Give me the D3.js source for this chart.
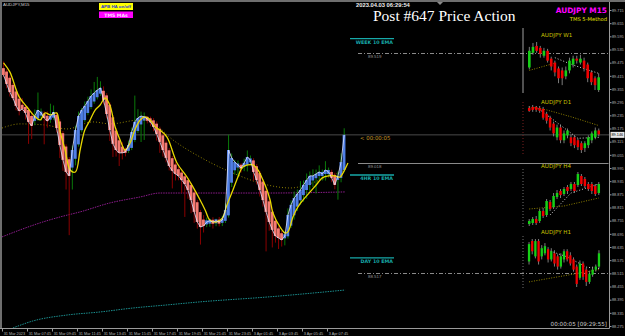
<html>
<head>
<style>
  body { margin: 0; background: #000; }
  svg { display: block; font-family: "DejaVu Sans", sans-serif; }
</style>
<script src="https://d3js.org/d3.v7.min.js"></script>
</head>
<body>
<svg id="chart" width="625" height="336"></svg>
<script type="text/javascript">

// M15 heikin-ashi closes, 31 Mar 05:45 -> 3 Apr 09:00
var closes = [89.419, 89.378, 89.341, 89.314, 89.278, 89.255, 89.264, 89.246, 89.205, 89.187,
  89.232, 89.259, 89.246, 89.223, 89.209, 89.228, 89.250, 89.177, 89.100, 89.032,
  88.977, 88.959, 89.077, 89.168, 89.232, 89.259, 89.278, 89.300, 89.323, 89.337,
  89.350, 89.360, 89.305, 89.241, 89.168, 89.105, 89.077, 89.064, 89.064, 89.068,
  89.100, 89.159, 89.205, 89.223, 89.232, 89.228, 89.218, 89.205, 89.182, 89.150,
  89.114, 89.077, 89.041, 89.004, 88.982, 88.968, 88.959, 88.940, 88.922, 88.895,
  88.849, 88.795, 88.749, 88.726, 88.731, 88.749, 88.754, 88.749, 88.754, 88.749,
  88.758, 88.804, 89.077, 89.041, 89.022, 89.009, 88.995, 89.018, 89.045, 89.032,
  88.977, 88.940, 88.895, 88.849, 88.795, 88.749, 88.713, 88.685, 88.676, 88.667,
  88.685, 88.781, 88.827, 88.858, 88.877, 88.895, 88.918, 88.940, 88.959, 88.959,
  88.968, 88.977, 88.968, 88.986, 88.977, 88.950, 88.918, 88.959, 89.022, 89.146];
var firstOpen = 89.45;
// wick lengths beyond the body, in pips
var wickHi = [3,1,1,1,1,2,3,1,1,2, 3,8,2,1,2,6,3,1,1,1, 1,1,2,2,2,1,2,2,3,5,
  6,3,2,1,1,1,1,1,2,1, 2,2,12,4,2,2,1,1,1,1, 1,1,1,1,1,1,1,1,1,1,
  1,1,1,1,2,2,1,2,1,2, 2,3,7,2,1,2,1,2,3,2, 1,1,1,1,1,1,1,1,1,1,
  2,3,2,3,2,4,2,3,2,3, 2,3,2,4,2,1,1,2,4,3];
var wickLo = [1,2,2,1,2,2,1,3,10,6, 2,1,3,12,3,2,1,2,6,5, 8,27,10,3,1,1,1,1,1,1,
  1,1,2,2,5,6,3,6,3,2, 1,1,1,1,8,9,2,2,2,3, 5,3,2,2,8,3,2,6,15,4,
  6,5,3,8,3,2,2,3,2,2, 2,1,1,2,2,5,2,2,3,2, 4,2,3,3,18,4,8,3,5,3,
  4,1,1,2,2,2,3,4,3,3, 7,2,3,3,2,2,2,9,2,1];

var timeLabels = ["31 Mar 2023", "31 Mar 07:45", "31 Mar 09:45", "31 Mar 11:45", "31 Mar 13:45",
  "31 Mar 15:45", "31 Mar 17:45", "31 Mar 19:45", "31 Mar 21:45", "31 Mar 23:45",
  "3 Apr 01:45", "3 Apr 03:45", "3 Apr 05:45", "3 Apr 07:45"];
var timeTickIdx = [0, 8, 16, 24, 32, 40, 48, 56, 64, 72, 80, 88, 96, 104];

var priceTicks = [89.715, 89.655, 89.595, 89.535, 89.475, 89.415, 89.355, 89.295, 89.235, 89.175,
  89.115, 89.055, 88.995, 88.935, 88.875, 88.815, 88.755, 88.695, 88.635, 88.575,
  88.515, 88.455, 88.395, 88.335, 88.275];

// moving averages: [candle index, price]
var yellowMa = [[0,89.474],[2,89.433],[5,89.319],[7.5,89.273],[9.5,89.237],[11.7,89.214],[13.3,89.246],
  [15,89.237],[17,89.246],[18,89.168],[19.7,89.077],[21.3,88.986],[23,88.977],[24.5,89.077],
  [26,89.168],[27.7,89.214],[29.3,89.259],[30.9,89.282],[32.5,89.314],[34,89.282],[35.7,89.182],
  [37.3,89.123],[38.9,89.077],[40.5,89.109],[42,89.168],[43.7,89.214],[45.3,89.228],[46.9,89.214],
  [48.5,89.182],[50,89.168],[52.3,89.136],[55.5,89.018],[58.7,88.954],[60.6,88.909],[62.9,88.849],
  [64.5,88.804],[66,88.758],[68,88.749],[70,88.767],[71.5,88.827],[73.4,88.895],[75,88.954],
  [76.6,89.000],[79.8,89.009],[81.4,88.986],[83,88.940],[84.3,88.895],[85.3,88.849],[86.2,88.790],
  [88.5,88.726],[90.1,88.699],[91,88.704],[92.6,88.772],[94.2,88.818],[95.8,88.849],[98.1,88.886],
  [100.3,88.922],[102,88.950],[104,88.959],[106,88.959],[107.7,88.954],[108.6,88.972],[110.2,89.018]];
var oliveMa = [[-0.5,89.177],[5.3,89.196],[13.3,89.191],[20.3,89.173],[28.6,89.205],[34.1,89.196],
  [43.7,89.214],[47.8,89.200],[54.2,89.123],[62.9,89.045],[73.4,88.972],[84.3,88.918],[91.7,88.904],
  [101.3,88.940],[109.3,88.986]];
var purpleMa = [[-0.5,88.681],[5.3,88.713],[11.7,88.745],[18.1,88.772],[24.5,88.795],[34.1,88.836],
  [43.7,88.863],[50.1,88.881],[62.9,88.881],[85.3,88.881],[109.3,88.886]];
var tealMa = [[3,88.266],[9.4,88.298],[20.3,88.325],[30.9,88.339],[41.4,88.357],[52.3,88.371],
  [62.9,88.385],[84.3,88.407],[109.3,88.439]];

var levelPrices = [89.519, 89.018, 88.517];
var emaNames = ["WEEK 10 EMA", "4HR 10 EMA", "DAY 10 EMA"];
var emaPrices = [89.585, 88.963, 88.585];

// mini panels, candles as [open, high, low, close]
var w1Candles = [[90.1,94.3,89.7,93.5],[93.1,95.1,92.7,94.3],[94.5,95.3,93.1,93.5],[94.1,94.5,92.1,92.9],
  [92.5,94.1,92.1,93.5],[93.5,93.9,91.1,91.5],[91.9,92.3,89.5,90.3],[91.1,91.5,88.3,89.1],
  [89.9,90.3,86.9,87.9],[89.5,90.1,86.5,87.9],[88.3,90.3,87.7,89.5],[89.5,92.1,88.9,91.5],
  [90.7,92.5,90.1,91.9],[91.9,92.5,90.9,91.5],[91.1,92.7,90.7,91.9],[91.5,92.1,89.3,89.9],
  [90.7,91.1,87.1,87.9],[89.1,89.5,86.5,87.1],[87.9,88.3,85.5,86.5],[85.5,88.9,85.1,88.1]];
var d1Candles = [[91.7,91.9,91.3,91.4],[91.8,92.0,91.3,91.5],[91.8,91.9,91.3,91.5],[91.7,91.9,91.2,91.4],
  [91.6,91.8,90.5,90.7],[91.1,91.3,90.1,90.4],[90.7,90.9,89.4,89.7],[90.1,90.3,88.8,89.1],
  [88.7,90.0,88.4,89.7],[89.7,90.0,88.1,88.4],[88.4,89.4,88.1,89.1],[88.9,89.6,88.6,89.4],
  [88.7,89.0,87.8,88.1],[88.7,88.9,87.6,87.9],[88.4,88.6,87.4,87.7],[88.1,88.3,87.1,87.4],
  [87.6,88.3,87.2,88.1],[87.9,88.9,87.6,88.7],[88.4,89.3,88.1,89.1],[88.7,89.7,88.5,89.4],
  [89.4,89.6,88.8,89.0]];
var h4Candles = [[86.95,87.2,86.85,87.1],[87.0,87.3,86.9,87.2],[87.2,87.35,86.9,87.0],[87.1,87.7,87.0,87.6],
  [87.6,87.75,87.25,87.35],[87.4,88.2,87.3,88.1],[88.05,88.15,87.6,87.7],[87.8,88.5,87.7,88.35],
  [88.3,88.65,88.2,88.5],[88.6,88.7,88.25,88.4],[88.45,88.8,88.35,88.7],[88.8,88.9,88.45,88.6],
  [88.7,89.05,88.6,88.95],[88.95,89.05,88.5,88.6],[88.9,89.55,88.8,89.45],[89.35,89.45,88.85,88.95],
  [89.2,89.3,88.75,88.85],[88.95,89.05,88.6,88.7],[88.95,89.05,88.45,88.6],[88.85,88.95,88.35,88.45],
  [88.5,89.05,88.4,88.95]];
var h1Candles = [[89.06,89.44,89.00,89.40],[89.46,89.50,89.20,89.26],[89.16,89.50,89.12,89.46],
  [89.46,89.50,89.00,89.06],[89.16,89.38,89.10,89.32],[89.22,89.42,89.18,89.36],[89.30,89.34,89.04,89.10],
  [89.10,89.32,89.06,89.26],[89.22,89.28,88.96,89.02],[89.16,89.20,88.90,88.96],[88.96,89.22,88.92,89.16],
  [89.10,89.30,89.04,89.26],[89.26,89.30,89.06,89.10],[89.18,89.24,88.98,89.02],[89.10,89.14,88.86,88.90],
  [88.96,89.00,88.56,88.62],[88.74,89.08,88.70,89.02],[89.02,89.06,88.70,88.76],[88.90,88.94,88.58,88.66],
  [88.66,88.88,88.62,88.82],[88.80,88.96,88.76,88.90],[88.90,89.00,88.86,88.96],[88.96,89.28,88.92,89.22]];
var w1Olive = [[0,89.5],[7,91.0]];
var w1White = [[7,92.1],[12,90.6],[19,88.9]];
var d1Olive = [[0,91.8],[5,91.5],[12,90.8],[20,89.9]];
var d1White = [[2,91.8],[8,90.2],[14,88.6],[20,88.7]];
var h4Olive = [[0,87.7],[10,87.85],[20,88.25]];
var h4White = [[6,87.4],[12,88.5],[20,88.95]];
var h1Olive = [[0,88.66],[22,88.90]];
var h1White = [[5,89.30],[12,89.15],[18,88.95],[22,88.92]];

var svg = d3.select("#chart");
var W = 625, H = 336;
var axisX = 609.5, axisY = 328.5;
var fmt = d3.format(".3f");
var smallFont = "Liberation Sans, Arial, sans-serif";

svg.append("rect").attr("width", W).attr("height", H).attr("fill", "#000");

var x = d3.scaleBand().domain(d3.range(closes.length))
  .range([2, 2 + closes.length * 3.125]).padding(0);
var y = d3.scaleLinear().domain([d3.max(priceTicks), d3.min(priceTicks)]).range([10, 326]);
var bw = x.bandwidth();
function xi(idx) { return x(0) + bw / 2 + idx * x.step(); }

var main = svg.append("g");

// long MAs behind price
function dotted(data, color, dash) {
  main.append("path").datum(data)
    .attr("fill", "none").attr("stroke", color).attr("stroke-width", 1)
    .attr("stroke-dasharray", dash)
    .attr("d", d3.line().x(function(d) { return xi(d[0]); }).y(function(d) { return y(d[1]); })
      .curve(d3.curveMonotoneX));
}
dotted(oliveMa, "#8f8000", "1,2");
dotted(purpleMa, "#8e1c8e", "1.5,1");
dotted(tealMa, "#1b8f8f", "1.5,1");

// current price line
var last = closes[closes.length - 1];
main.append("line").attr("x1", 2).attr("x2", axisX).attr("y1", y(last)).attr("y2", y(last))
  .attr("stroke", "#4a4a4a").attr("stroke-width", 1);

// heikin-ashi opens
var opens = [firstOpen];
for (var i = 1; i < closes.length; i++) {
  opens.push((opens[i - 1] + closes[i - 1]) / 2);
}
var cg = main.append("g");
cg.selectAll("line.wick").data(closes).enter().append("line")
  .attr("class", "wick")
  .attr("x1", function(d, i) { return x(i) + bw / 2; })
  .attr("x2", function(d, i) { return x(i) + bw / 2; })
  .attr("y1", function(d, i) { return y(Math.max(d, opens[i]) + wickHi[i] / 100); })
  .attr("y2", function(d, i) { return y(Math.min(d, opens[i]) - wickLo[i] / 100); })
  .attr("stroke", function(d, i) { return d > opens[i] ? "#0a7a0a" : "#8b0000"; })
  .attr("stroke-width", 1);
cg.selectAll("rect.body").data(closes).enter().append("rect")
  .attr("class", "body")
  .attr("x", function(d, i) { return x(i); })
  .attr("width", bw - 0.3)
  .attr("y", function(d, i) {
    var top = y(Math.max(d, opens[i])), bot = y(Math.min(d, opens[i]));
    return bot - top < 4 ? (top + bot) / 2 - 2 : top;
  })
  .attr("height", function(d, i) { return Math.max(4, Math.abs(y(d) - y(opens[i]))); })
  .attr("fill", function(d, i) { return d > opens[i] ? "#4f7fe6" : "#f47a72"; });

// yellow and white MAs
main.append("path").datum(yellowMa)
  .attr("fill", "none").attr("stroke", "#e8d800").attr("stroke-width", 1.3)
  .attr("d", d3.line().x(function(d) { return xi(d[0]); }).y(function(d) { return y(d[1]); })
    .curve(d3.curveCatmullRom));
main.append("path").datum(closes)
  .attr("fill", "none").attr("stroke", "#dfe6ff").attr("stroke-width", 0.8)
  .attr("d", d3.line().x(function(d, i) { return x(i) + bw / 2; }).y(function(d) { return y(d); }));

// level lines on the right
var levelDash = ["4,2,1,2", null, "4,2,1,2"];
levelPrices.forEach(function(p, k) {
  main.append("line").attr("x1", 358).attr("x2", axisX - 1)
    .attr("y1", Math.round(y(p)) + 0.5).attr("y2", Math.round(y(p)) + 0.5)
    .attr("stroke", "#8a8a8a").attr("stroke-width", 1)
    .attr("stroke-dasharray", levelDash[k]);
  main.append("text").attr("x", 368).attr("y", y(p) + 5)
    .attr("font-size", 4.4).attr("font-family", smallFont).attr("fill", "#9a9a9a").text(fmt(p));
});
emaPrices.forEach(function(p, k) {
  main.append("line").attr("x1", 350).attr("x2", 394).attr("y1", y(p)).attr("y2", y(p))
    .attr("stroke", "#17a9a9").attr("stroke-width", 1.3);
  main.append("text").attr("x", 393).attr("y", y(p) + 5).attr("text-anchor", "end")
    .attr("font-size", 4.8).attr("font-weight", "bold").attr("fill", "#17a9a9").text(emaNames[k]);
});
main.append("text").attr("x", 360).attr("y", y(last) + 5)
  .attr("font-size", 5.4).attr("fill", "#c89a2a").text("< 00:00:05");

// mini panels
var panels = [
  {title: "AUDJPY W1", data: w1Candles, top: 42, bottom: 92, titleY: 37, olive: w1Olive, white: w1White},
  {title: "AUDJPY D1", data: d1Candles, top: 105, bottom: 153, titleY: 104, olive: d1Olive, white: d1White},
  {title: "AUDJPY H4", data: h4Candles, top: 172, bottom: 226, titleY: 168, olive: h4Olive, white: h4White},
  {title: "AUDJPY H1", data: h1Candles, top: 239, bottom: 287, titleY: 234, olive: h1Olive, white: h1White}
];
panels.forEach(function(p, k) {
  var g = svg.append("g");
  var px = d3.scaleBand().domain(d3.range(p.data.length)).range([527, 601]).padding(0.28);
  var py = d3.scaleLinear()
    .domain([d3.max(p.data, function(d) { return d[1]; }), d3.min(p.data, function(d) { return d[2]; })])
    .range([p.top, p.bottom]);
  var pw = px.bandwidth();
  function pxi(idx) { return px(0) + pw / 2 + idx * px.step(); }

  if (k == 0) {
    g.append("rect").attr("x", 522.5).attr("y", 28).attr("width", 1).attr("height", 65).attr("fill", "#a0a0a0");
  } else {
    g.append("line").attr("x1", 523).attr("x2", 523).attr("y1", p.top - 3).attr("y2", p.bottom + 3)
      .attr("stroke", k == 1 ? "#7a2020" : "#707070").attr("stroke-dasharray", "1,2");
  }
  g.append("text").attr("x", 541).attr("y", p.titleY).attr("font-size", 5.6)
    .attr("fill", "#c9c200").text(p.title);

  g.append("path").datum(p.olive).attr("fill", "none").attr("stroke", "#8f8000")
    .attr("stroke-dasharray", "1,1.5")
    .attr("d", d3.line().x(function(d) { return pxi(d[0]); }).y(function(d) { return py(d[1]); }));
  g.append("path").datum(p.white).attr("fill", "none").attr("stroke", "#cfcfcf")
    .attr("stroke-dasharray", "1,2")
    .attr("d", d3.line().x(function(d) { return pxi(d[0]); }).y(function(d) { return py(d[1]); }));

  g.selectAll("line.w").data(p.data).enter().append("line")
    .attr("x1", function(d, i) { return px(i) + pw / 2; })
    .attr("x2", function(d, i) { return px(i) + pw / 2; })
    .attr("y1", function(d) { return py(d[1]); })
    .attr("y2", function(d) { return py(d[2]); })
    .attr("stroke", "#9a9a9a").attr("stroke-width", 0.8);
  g.selectAll("rect.b").data(p.data).enter().append("rect")
    .attr("x", function(d, i) { return px(i); })
    .attr("width", pw)
    .attr("y", function(d) { return py(Math.max(d[0], d[3])); })
    .attr("height", function(d) { return Math.max(1, Math.abs(py(d[0]) - py(d[3]))); })
    .attr("fill", function(d) { return d[3] > d[0] ? "#16d016" : "#f00000"; });
});

// frame
svg.append("rect").attr("x", 0).attr("y", 0).attr("width", W).attr("height", 2).attr("fill", "#6e6e6e");
svg.append("rect").attr("x", 0).attr("y", 0).attr("width", 2).attr("height", axisY).attr("fill", "#6e6e6e");
svg.append("line").attr("x1", axisX).attr("x2", axisX).attr("y1", 2).attr("y2", axisY)
  .attr("stroke", "#9a9a9a");
svg.append("line").attr("x1", 0).attr("x2", axisX).attr("y1", axisY).attr("y2", axisY)
  .attr("stroke", "#9a9a9a");
svg.append("path").attr("d", "M437,2 L443,2 L440,5 Z").attr("fill", "#8a8a8a");

// price axis
var yAxis = d3.axisRight(y).tickValues(priceTicks).tickSize(2).tickFormat(fmt);
var ya = svg.append("g").attr("transform", "translate(" + axisX + ",0)").call(yAxis);
ya.select(".domain").remove();
ya.selectAll("line").attr("stroke", "#9a9a9a");
ya.selectAll("text").attr("font-size", 3.8).attr("fill", "#b8b8b8").attr("x", 2.5)
  .attr("font-family", smallFont);
svg.append("rect").attr("x", axisX + 1).attr("y", y(last) - 3).attr("width", 14).attr("height", 6)
  .attr("fill", "#e8e8e8");
svg.append("text").attr("x", axisX + 2).attr("y", y(last) + 1.4).attr("font-size", 3.8)
  .attr("font-family", smallFont).attr("fill", "#000").text(fmt(last));

// time axis
var ta = svg.append("g");
timeTickIdx.forEach(function(idx, k) {
  var tx = Math.round(x(idx)) + 0.5;
  ta.append("line").attr("x1", tx).attr("x2", tx).attr("y1", axisY).attr("y2", axisY + 3)
    .attr("stroke", "#9a9a9a");
  ta.append("text").attr("x", tx + 1.2).attr("y", 334.5).attr("font-size", 3.8)
    .attr("font-family", smallFont).attr("fill", "#b8b8b8").text(timeLabels[k]);
});

// labels
svg.append("text").attr("x", 3).attr("y", 6).attr("font-size", 4.4).attr("font-family", smallFont)
  .attr("fill", "#cfcfcf").text("AUDJPY,M15");
svg.append("rect").attr("x", 99).attr("y", 3).attr("width", 34).attr("height", 7).attr("fill", "#ffff00");
svg.append("text").attr("x", 116).attr("y", 8.2).attr("text-anchor", "middle").attr("font-size", 4.4)
  .attr("font-family", smallFont).attr("font-weight", "bold").attr("fill", "#2a3cd0").text("APB HA on/off");
svg.append("rect").attr("x", 99).attr("y", 11.5).attr("width", 34).attr("height", 6.5).attr("fill", "#ff00ff");
svg.append("text").attr("x", 116).attr("y", 16.6).attr("text-anchor", "middle").attr("font-size", 4.6)
  .attr("font-weight", "bold").attr("fill", "#ffe0ff").text("TMS MAs");

svg.append("text").attr("x", 356).attr("y", 7).attr("font-size", 5.8).attr("font-weight", "bold")
  .attr("font-family", smallFont).attr("fill", "#eeeeee").text("2023.04.03 06:29:54");
svg.append("text").attr("x", 373).attr("y", 21).attr("font-size", 15.5)
  .attr("font-family", "Liberation Serif, serif").attr("fill", "#ffffff").text("Post #647 Price Action");
svg.append("text").attr("x", 607).attr("y", 13).attr("text-anchor", "end").attr("font-size", 7.4)
  .attr("font-weight", "bold").attr("fill", "#ff00ff").text("AUDJPY M15");
svg.append("text").attr("x", 607).attr("y", 20.5).attr("text-anchor", "end").attr("font-size", 5.2)
  .attr("fill", "#e6e600").text("TMS 5-Method");
svg.append("text").attr("x", 607).attr("y", 326).attr("text-anchor", "end").attr("font-size", 5.6)
  .attr("fill", "#cccccc").text("00:00:05 [09:29:55]");
</script>
</body>
</html>
